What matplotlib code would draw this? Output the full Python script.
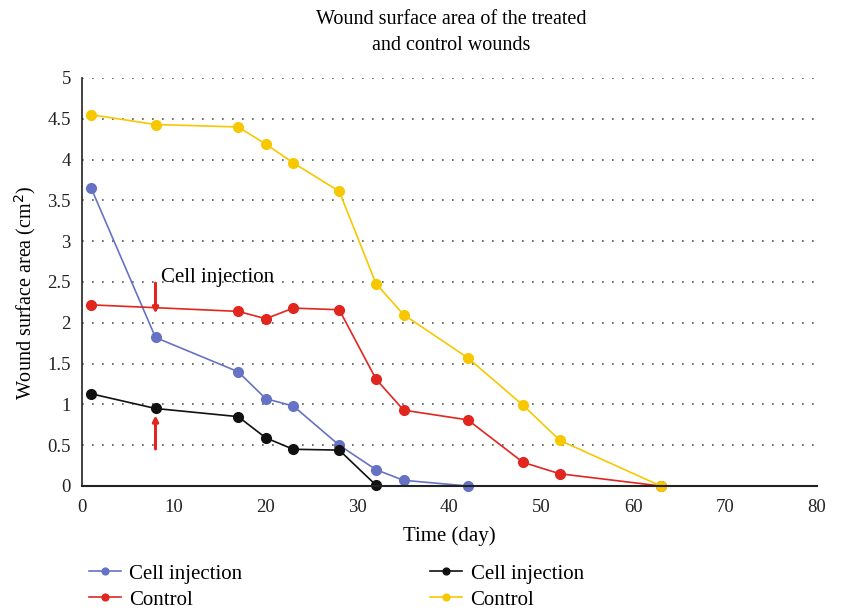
import matplotlib.pyplot as plt

# Wound surface area (cm^2) by day
days_cell_a = [1, 8, 17, 20, 23, 28, 32, 35, 42]
area_cell_a = [3.65, 1.82, 1.40, 1.07, 0.98, 0.50, 0.20, 0.07, 0.0]

days_ctrl_a = [1, 17, 20, 23, 28, 32, 35, 42, 48, 52, 63]
area_ctrl_a = [2.22, 2.14, 2.05, 2.18, 2.16, 1.31, 0.93, 0.81, 0.29, 0.15, 0.0]

days_cell_b = [1, 8, 17, 20, 23, 28, 32]
area_cell_b = [1.13, 0.95, 0.85, 0.59, 0.45, 0.44, 0.01]

days_ctrl_b = [1, 8, 17, 20, 23, 28, 32, 35, 42, 48, 52, 63]
area_ctrl_b = [4.55, 4.43, 4.40, 4.19, 3.96, 3.61, 2.48, 2.10, 1.57, 0.99, 0.56, 0.0]

serif = "Liberation Serif"

fig = plt.figure(figsize=(8.42, 6.11), dpi=100)
ax = fig.add_axes([82 / 842, 1 - 486 / 611, (817 - 82) / 842, (486 - 78) / 611])

style = dict(marker="o", markersize=7, linewidth=1.2)
ax.plot(days_cell_a, area_cell_a, color="#6673c4", label="Cell injection", **style)
ax.plot(days_ctrl_a, area_ctrl_a, color="#e0261f", label="Control", **style)
ax.plot(days_cell_b, area_cell_b, color="#111111", label="Cell injection", **style)
ax.plot(days_ctrl_b, area_ctrl_b, color="#f7c800", label="Control", **style)

# Cell injection arrows
ax.annotate("", xy=(8, 2.08), xytext=(8, 2.52),
            arrowprops=dict(arrowstyle="-|>", color="#e0261f", lw=2.2, mutation_scale=8))
ax.annotate("", xy=(8, 0.9), xytext=(8, 0.42),
            arrowprops=dict(arrowstyle="-|>", color="#e0261f", lw=2.2, mutation_scale=8))
ax.text(8.6, 2.56, "Cell injection", family=serif, fontsize=15, va="center")

ax.set_xlim(0, 80)
ax.set_ylim(0, 5)
ax.set_xticks(range(0, 81, 10))
ax.set_yticks([i * 0.5 for i in range(11)])
ax.set_yticklabels(["0", "0.5", "1", "1.5", "2", "2.5", "3", "3.5", "4", "4.5", "5"])
for lbl in ax.get_xticklabels() + ax.get_yticklabels():
    lbl.set_family(serif)
    lbl.set_fontsize(13.5)
    lbl.set_color("#222222")
ax.tick_params(axis="y", length=0, pad=8)
ax.tick_params(axis="x", length=0, pad=9)

ax.yaxis.grid(True, linestyle=(0, (1, 5)), color="#555555", linewidth=1.2)
ax.set_axisbelow(True)
for side in ["top", "right"]:
    ax.spines[side].set_visible(False)
ax.spines["left"].set_color("#222222")
ax.spines["bottom"].set_color("#222222")
ax.spines["left"].set_linewidth(1.2)
ax.spines["bottom"].set_linewidth(1.5)
for ln in ax.get_lines():
    ln.set_clip_on(False)

ax.set_xlabel("Time (day)", family=serif, fontsize=15, labelpad=8)
ax.set_ylabel("Wound surface area (cm$^2$)", family=serif, fontsize=14.5)
ax.yaxis.set_label_coords(-0.06, 0.473)
fig.suptitle("Wound surface area of the treated\nand control wounds", family=serif,
             fontsize=14.5, x=451 / 842, y=0.984, linespacing=1.55)

fig.legend(loc="lower left", bbox_to_anchor=(72 / 842, -0.025), ncol=2,
           prop={"family": serif, "size": 15}, frameon=False,
           handlelength=1.55, handletextpad=0.4, columnspacing=9.0,
           labelspacing=0.3, borderpad=0.3, markerscale=0.7)

fig.savefig("out.png", dpi=100)
